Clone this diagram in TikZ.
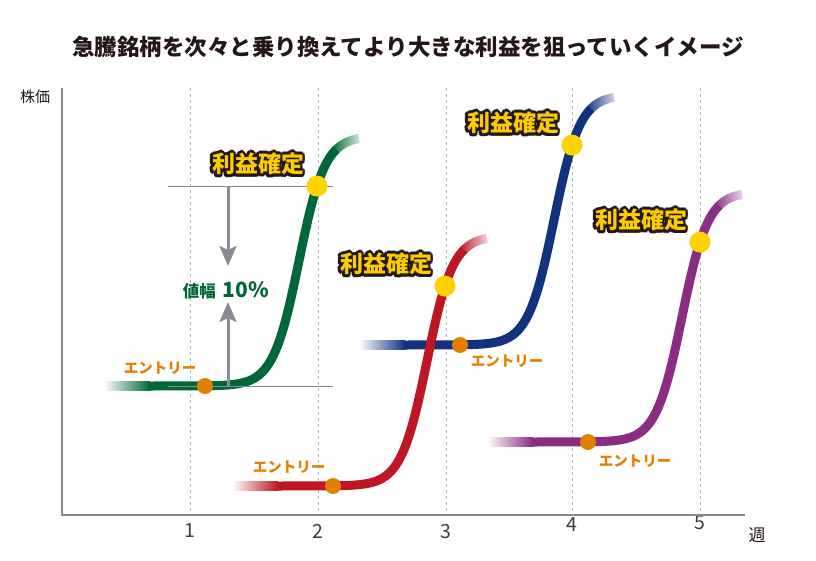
\documentclass[tikz,border=0pt]{standalone}
\usepackage{fontspec}
\setmainfont{Noto Sans CJK JP}
\usetikzlibrary{arrows.meta,calc,fadings}

\definecolor{sgreen}{RGB}{0,104,56}
\definecolor{sred}{RGB}{190,22,34}
\definecolor{sblue}{RGB}{18,50,128}
\definecolor{spurple}{RGB}{138,44,130}
\definecolor{entryorange}{RGB}{228,128,0}
\definecolor{profityellow}{RGB}{255,210,0}
\definecolor{labelgold}{RGB}{252,204,0}
\definecolor{inkdark}{RGB}{35,24,21}
\definecolor{axisgray}{RGB}{137,137,137}
\definecolor{gridgray}{RGB}{185,185,185}
\definecolor{rangegray}{RGB}{138,138,150}

\tikzfading[name=tailfade, left color=transparent!0, right color=transparent!92]

\tikzset{
  curve/.style={line width=9pt},
  entrydot/.style={circle, fill=entryorange, inner sep=0pt, minimum size=16pt},
  profitdot/.style={circle, fill=profityellow, inner sep=0pt, minimum size=21pt},
  entrylabel/.style={font=\bfseries\fontsize{14.5}{16}\selectfont, text=entryorange, inner sep=0pt},
  profitlabel/.style={font=\bfseries\fontsize{23}{26}\selectfont, inner sep=0pt},
  gridline/.style={gridgray, line width=0.8pt, dash pattern=on 3pt off 3pt},
  axisline/.style={axisgray, line width=2pt},
  rangeline/.style={rangegray, line width=1pt},
  rangearrow/.style={rangegray, line width=3pt, -{Stealth[length=20pt, width=17pt, inset=4pt]}},
  ticklabel/.style={font=\fontsize{19.5}{22}\selectfont, text=inkdark!85, inner sep=0pt},
}

\begin{document}
\begin{tikzpicture}[x=1pt,y=-1pt]
  \useasboundingbox[fill=white] (0,0) rectangle (816,560);

  % Titel.
  \node[font=\bfseries\fontsize{22.5}{26}\selectfont, text=inkdark] (title) at (408,47)
    {急騰銘柄を次々と乗り換えてより大きな利益を狙っていくイメージ};

  % Raster en assen.
  \foreach \n/\gx/\ty in {1/190/531, 2/318/531, 3/446/532, 4/572/525, 5/700/523} {
    \coordinate (gt-\n) at (\gx,88);
    \coordinate (gb-\n) at (\gx,515);
    \draw[gridline] (gt-\n) -- (gb-\n);
    \node[ticklabel] (tick-\n) at (\gx,\ty) {\n};
  }
  \coordinate (origin) at (62,515);
  \coordinate (ytop) at (62,88);
  \coordinate (xend) at (745,515);
  \draw[axisline] (ytop) -- (origin) -- (xend);
  \node[font=\fontsize{15}{16}\selectfont, text=inkdark] (yname) at (35,97) {株価};
  \node[font=\fontsize{17}{18}\selectfont, text=inkdark] (xname) at (757,535) {週};

  % Koerslijnen.
  \foreach \xm/\yl/\col in {299/386/sgreen, 554/345/sblue, 427/486/sred, 682/442/spurple} {
    \pgfmathsetmacro{\xs}{\xm-195}
    \pgfmathsetmacro{\xa}{\xm-150}
    \pgfmathsetmacro{\xp}{\xm-105}
    \pgfmathsetmacro{\xb}{\xm+36}
    \pgfmathsetmacro{\xc}{\xm+60}
    \pgfmathsetmacro{\yb}{\yl-250/(1+exp(-36/13))}
    \pgfmathsetmacro{\yc}{\yl-250/(1+exp(-60/13))}
    \shade[left color=white, right color=\col]
      (\xs,{\yl-4.5}) rectangle (\xa+1,{\yl+4.5});
    \draw[curve, color=\col] (\xa,\yl)
      -- plot[domain=\xp:\xb+1, samples=80] (\x,{\yl-250/(1+exp(-(\x-\xm)/13))});
    \draw[curve, color=\col, path fading=tailfade]
      (\xb,{\yb+9}) (\xb,{\yc-9})
      plot[domain=\xb:\xc, samples=20] (\x,{\yl-250/(1+exp(-(\x-\xm)/13))});
  }

  % Koersverschil.
  \coordinate (rt-l) at (168,186);
  \coordinate (rt-r) at (333,186);
  \coordinate (rb-l) at (168,386);
  \coordinate (rb-r) at (333,386);
  \coordinate (rt-a) at (228,186);
  \coordinate (rt-b) at (228,266);
  \coordinate (rb-a) at (228,386);
  \coordinate (rb-b) at (228,302);
  \draw[rangeline] (rt-l) -- (rt-r);
  \draw[rangeline] (rb-l) -- (rb-r);
  \draw[rangearrow] (rt-a) -- (rt-b);
  \draw[rangearrow] (rb-a) -- (rb-b);
  \node[text=sgreen, inner sep=0pt, font=\bfseries] (spread) at (226,290)
    {\fontsize{16.5}{18}\selectfont 値幅\hspace{7pt}\fontsize{21}{22}\selectfont 10\%};

  % Instap- en winstpunten.
  \foreach \xm/\yl/\col/\ex/\ey in {299/386/sgreen/-45/-18, 427/486/sred/-44/-19,
      554/345/sblue/47/16, 682/442/spurple/47/19} {
    \node[entrydot] (ed-\col) at (\xm-94,\yl) {};
    \node[profitdot] (pd-\col) at (\xm+18,{\yl-250/(1+exp(-18/13))}) {};
    \node[entrylabel] (el-\col) at ($(ed-\col)+(\ex,\ey)$) {エントリー};
    \coordinate (lbl-\col) at ($(pd-\col)+(-59,-22)$);
    \foreach \a in {0,30,...,330}
      \node[profitlabel, text=inkdark] at ([shift={(\a:2.8pt)}]lbl-\col) {利益確定};
    \node[profitlabel, text=labelgold] (pl-\col) at (lbl-\col) {利益確定};
  }
\end{tikzpicture}
\end{document}
